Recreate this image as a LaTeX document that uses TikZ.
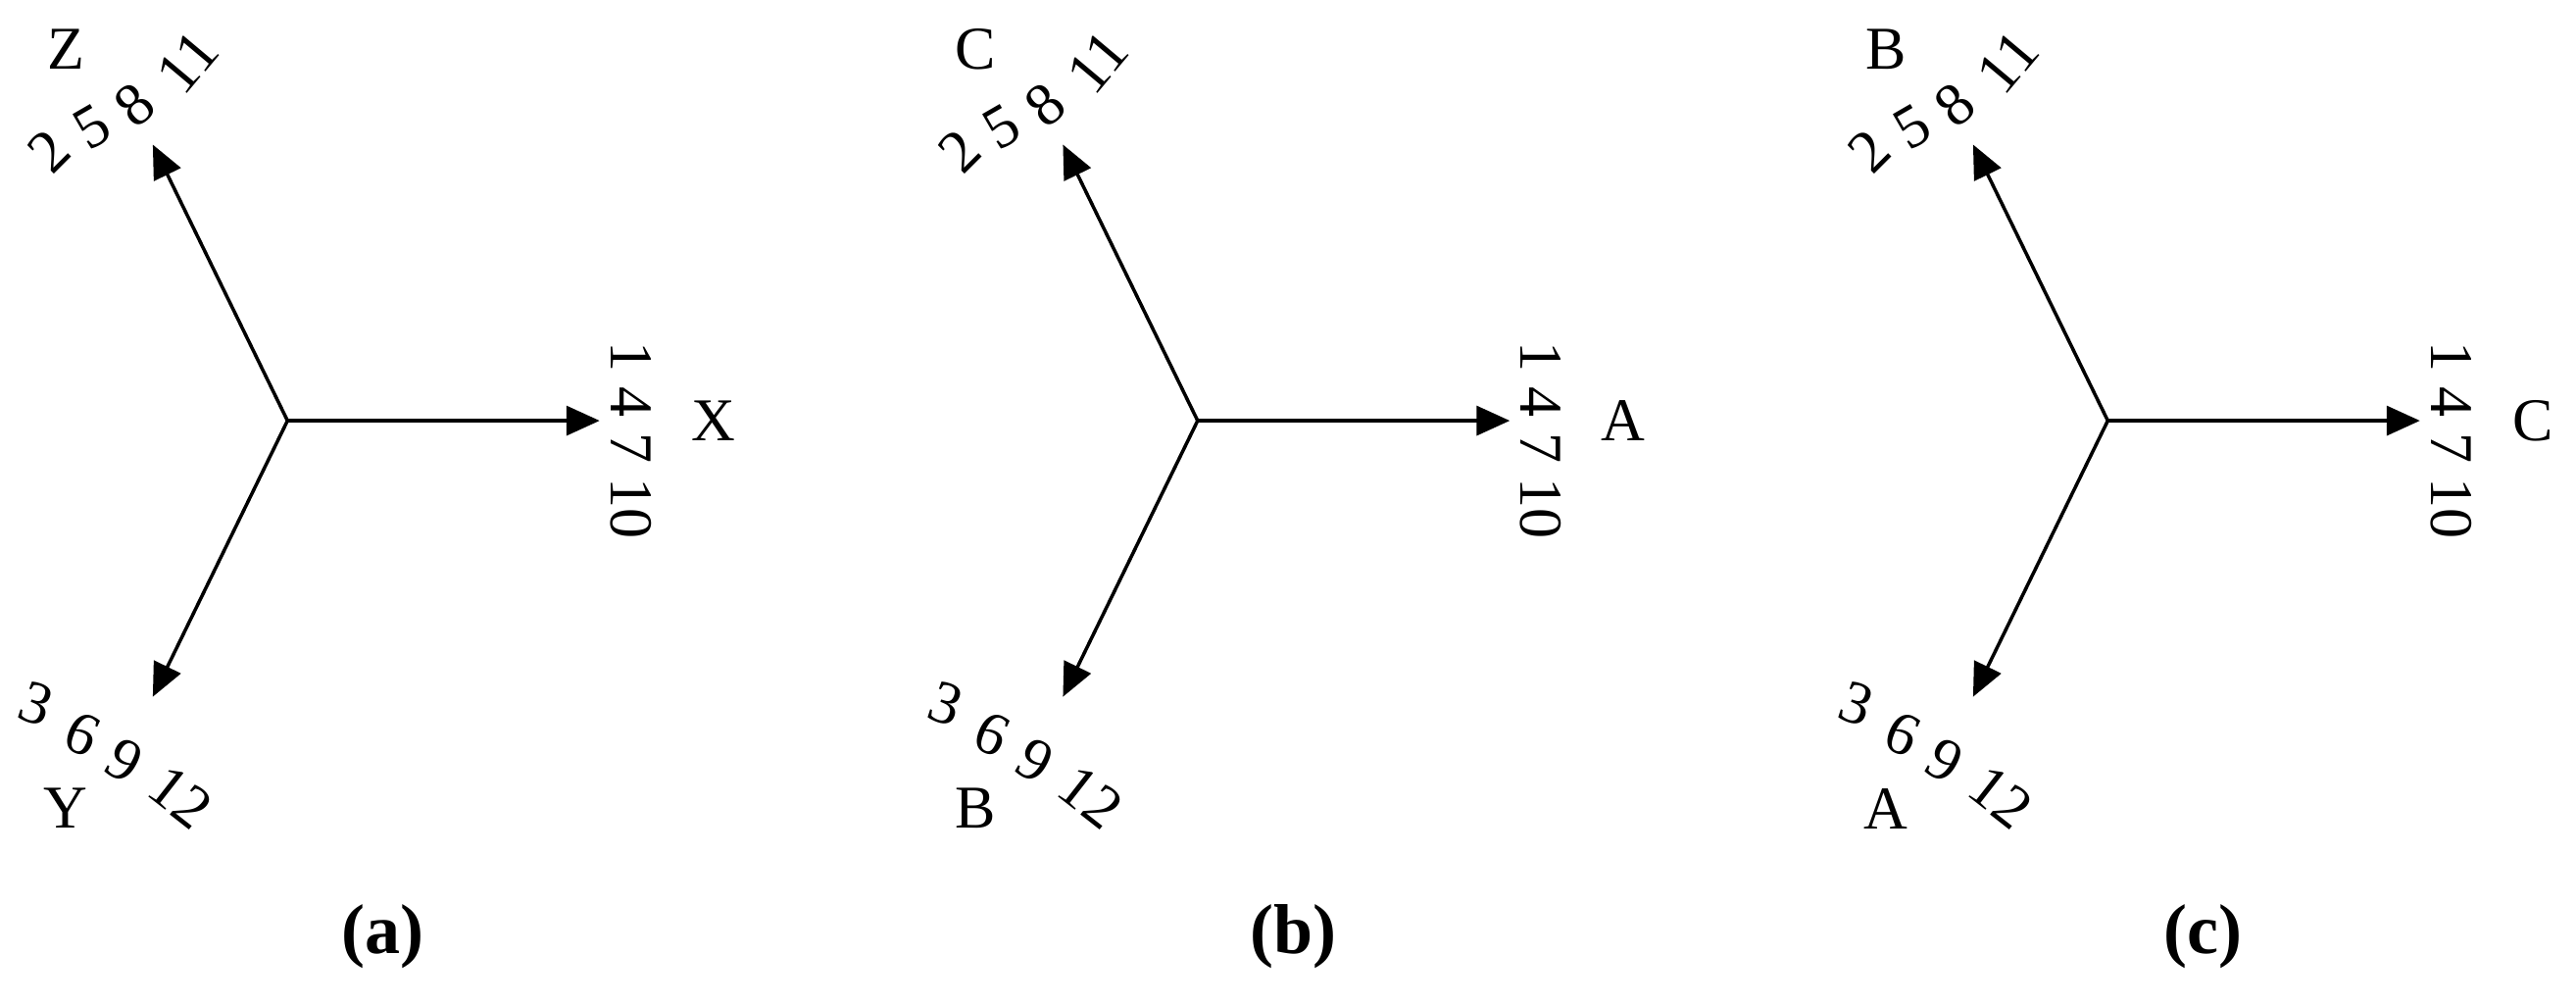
\documentclass[tikz,border=0pt]{standalone}
\usepackage{fontspec}
\setmainfont{Liberation Serif}
\usetikzlibrary{arrows.meta}
\begin{document}
\begin{tikzpicture}[x=1.676pt,y=-1.676pt,
  ax/.style={line width=3.5pt,-{Triangle[length=34pt,width=30pt]}},
  lab/.style={font=\fontsize{62}{72}\selectfont,inner sep=0pt},
  captxt/.style={font=\fontsize{72}{84}\selectfont\bfseries,inner sep=0pt}]
\useasboundingbox (0,0) rectangle (1568,611);
\foreach \dx/\R/\U/\D/\C in {0/X/Z/Y/a,554/A/C/B/b,1108/C/B/A/c}{
\begin{scope}[xshift=\dx*1.676pt]
  \coordinate (o\C) at (175,256);
  \coordinate (r\C) at (365,256);
  \coordinate (u\C) at (93,88);
  \coordinate (d\C) at (93,424);
  \draw[ax] (o\C) -- (r\C);
  \draw[ax] (o\C) -- (u\C);
  \draw[ax] (o\C) -- (d\C);
  \node[lab] (R\C) at (434,256) {\R};
  \node[lab,rotate=-90] (RN\C) at (384,268) {1 4 7 10};
  \node[lab] (U\C) at (40,30) {\U};
  \node[lab,rotate=45] (u2\C) at (30,92) {2};
  \node[lab,rotate=30] (u5\C) at (56,77) {5};
  \node[lab,rotate=40] (u8\C) at (82,64) {8};
  \node[lab,rotate=50] (u11\C) at (114,38) {11};
  \node[lab] (D\C) at (40,492) {\D};
  \node[lab,rotate=-20] (d3\C) at (22,428) {3};
  \node[lab,rotate=-25] (d6\C) at (50,447) {6};
  \node[lab,rotate=-30] (d9\C) at (76,463) {9};
  \node[lab,rotate=-38] (d12\C) at (110,485) {12};
  \node[captxt] (cap\C) at (233,570) {(\C)};
\end{scope}}
\end{tikzpicture}
\end{document}
